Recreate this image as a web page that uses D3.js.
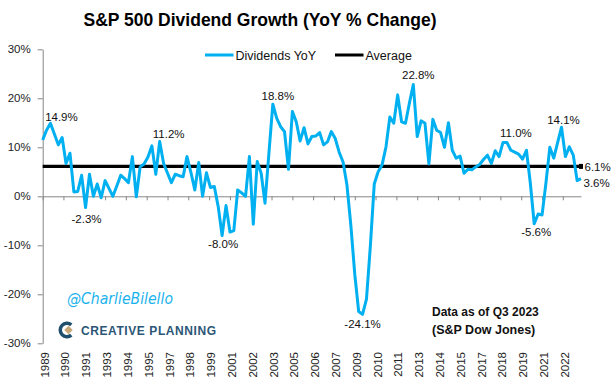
<!DOCTYPE html>
<html>
<head>
<meta charset="utf-8">
<script src="https://cdn.jsdelivr.net/npm/d3@7"></script>
<style>
  body { margin: 0; background: #fff; }
  svg { display: block; font-family: "Liberation Sans", Arial, sans-serif; }
</style>
</head>
<body>
<div id="chart"></div>
<script>
// S&P 500 dividends, YoY % change, quarterly from Q1 1989 to Q3 2023
const startYear = 1989;
const divYoY = [
  11.5, 13.5, 14.9, 12.7, 10.5, 12.0, 6.7, 8.8, 0.9, 1.0, 4.3, -2.3,
  4.5, 0.0, 2.5, -0.3, 3.2, 1.6, 0.0, 2.1, 4.3, 3.6, 2.8, 8.1,
  -0.1, 6.0, 6.6, 8.0, 10.3, 4.5, 11.2, 6.7, 4.7, 2.8, 4.5, 4.2,
  4.0, 8.1, 4.9, 1.3, 6.9, 0.0, 4.8, 1.8, 2.0, -2.1, -8.0, -1.9,
  -7.3, -7.0, 1.3, 0.7, 0.0, 8.1, -5.7, 7.1, 4.7, -1.4, 8.7, 18.8,
  15.9, 14.2, 13.2, 5.5, 17.3, 15.2, 11.3, 14.0, 10.7, 12.2, 12.3, 13.0,
  10.5, 11.1, 13.2, 11.8, 9.0, 7.0, 2.3, -6.0, -16.0, -23.5, -24.1, -21.0,
  -10.0, 2.5, 5.0, 6.4, 10.1, 16.2, 14.9, 20.7, 15.2, 14.9, 19.0, 22.8,
  12.2, 15.4, 14.9, 6.6, 15.7, 13.5, 13.0, 10.0, 15.0, 9.4, 7.8, 8.2,
  4.7, 5.5, 5.4, 6.0, 6.5, 7.5, 8.4, 6.7, 9.3, 8.1, 11.0, 11.0,
  9.4, 9.0, 8.6, 7.6, 9.4, 2.7, -5.6, -3.6, -3.8, 2.7, 10.0, 7.8,
  11.0, 14.1, 8.1, 10.1, 8.4, 3.2, 3.6
];
const average = 6.1;
const yTicks = [-30, -20, -10, 0, 10, 20, 30];
// quarters that carry a value label
const labelIdx = [2, 11, 30, 46, 59, 82, 95, 119, 126, 133];
const legendNames = ["Dividends YoY", "Average"];

const width = 616, height = 385;
const blue = "#00B0F0";

const svg = d3.select("#chart").append("svg")
  .attr("width", width)
  .attr("height", height);

const dates = divYoY.map((v, i) => new Date(startYear, i * 3, 1));
const data = divYoY.map((v, i) => ({ date: dates[i], value: v, i: i }));

const x = d3.scaleTime()
  .domain([dates[0], dates[dates.length - 1]])
  .range([42.7, 581]);

const y = d3.scaleLinear()
  .domain([-30, 30])
  .range([343.3, 49.3]);

// plain hyphen for negatives, like the excel original
const pct = v => d3.format(".1f")(v).replace("\u2212", "-") + "%";

// excel-ish date axis: one tick every 16 months
const tickDates = d3.range(26).map(k => d3.timeMonth.offset(dates[0], 16 * k));

// title
svg.append("text")
  .attr("x", 260).attr("y", 26)
  .attr("text-anchor", "middle")
  .attr("textLength", 353)
  .attr("lengthAdjust", "spacingAndGlyphs")
  .style("font-size", "19px").style("font-weight", "bold")
  .text("S&P 500 Dividend Growth (YoY % Change)");

// y axis
const yAxis = svg.append("g")
  .attr("transform", "translate(" + x.range()[0] + ",0)")
  .call(d3.axisLeft(y).tickValues(yTicks).tickSize(5).tickSizeOuter(0)
    .tickFormat(d => d + "%"));
yAxis.select(".domain").attr("stroke", "#868686");
yAxis.selectAll(".tick line").attr("stroke", "#868686");
yAxis.selectAll(".tick text")
  .attr("x", -12)
  .style("font-size", "11.5px").style("font-family", "Liberation Sans, Arial, sans-serif")
  .attr("fill", "#222");

// x axis along the zero line
const xAxis = svg.append("g")
  .attr("transform", "translate(0," + y(0) + ")")
  .call(d3.axisBottom(x).tickValues(tickDates).tickSize(4).tickSizeOuter(0).tickFormat(""));
xAxis.select(".domain").attr("stroke", "#868686");
xAxis.selectAll(".tick line").attr("stroke", "#868686");

// year labels at the bottom, rotated
svg.append("g").selectAll("text")
  .data(tickDates)
  .enter().append("text")
  .attr("transform", d => "translate(" + (x(d) + 6) + ",352) rotate(-90)")
  .attr("text-anchor", "end")
  .style("font-size", "11.5px")
  .attr("fill", "#222")
  .text(d => d3.timeFormat("%Y")(d));

// average line
svg.append("line")
  .attr("x1", x.range()[0]).attr("x2", x(dates[dates.length - 1]))
  .attr("y1", y(average)).attr("y2", y(average))
  .attr("stroke", "#000").attr("stroke-width", 3.2);
svg.append("rect")
  .attr("x", x(dates[dates.length - 1]) - 2).attr("y", y(average) - 2.5)
  .attr("width", 4).attr("height", 5).attr("fill", "#000");

// dividend line
const line = d3.line()
  .x(d => x(d.date))
  .y(d => y(d.value));

svg.append("path")
  .datum(data)
  .attr("fill", "none")
  .attr("stroke", blue)
  .attr("stroke-width", 3)
  .attr("stroke-linejoin", "round")
  .attr("d", line);

// value labels
const nudge = {
  2: [11, -2], 11: [1, 15.5], 30: [9, -3.5], 46: [1, 12.5], 59: [5, -4],
  82: [0, 13.5], 95: [5, -5.5], 119: [9, -5], 126: [2, 12], 133: [2, -3]
};
svg.append("g").selectAll("text")
  .data(labelIdx.map(i => data[i]))
  .enter().append("text")
  .attr("x", d => x(d.date) + nudge[d.i][0])
  .attr("y", d => y(d.value) + nudge[d.i][1])
  .attr("text-anchor", "middle")
  .style("font-size", "11.5px")
  .attr("fill", "#111")
  .text(d => pct(d.value));

// end labels
const last = data[data.length - 1];
svg.append("text")
  .attr("x", x(last.date) + 3.5).attr("y", y(average) + 4.5)
  .style("font-size", "11.5px").attr("fill", "#111")
  .text(pct(average));
svg.append("text")
  .attr("x", x(last.date) + 2.5).attr("y", y(last.value) + 8)
  .style("font-size", "11.5px").attr("fill", "#111")
  .text(pct(last.value));

// legend
const legend = svg.append("g");
const legendX = [205, 335];
const legendColors = [blue, "#000"];
legendNames.forEach((name, k) => {
  legend.append("line")
    .attr("x1", legendX[k]).attr("x2", legendX[k] + 28.5)
    .attr("y1", 55).attr("y2", 55)
    .attr("stroke", legendColors[k]).attr("stroke-width", 3);
  legend.append("text")
    .attr("x", legendX[k] + 30.5).attr("y", 59.5)
    .style("font-size", "12.5px").attr("fill", "#111")
    .text(name);
});

// watermark
svg.append("text")
  .attr("x", 67).attr("y", 304)
  .attr("textLength", 106)
  .attr("lengthAdjust", "spacingAndGlyphs")
  .style("font-size", "15px").style("font-style", "italic")
  .style("font-family", "'DejaVu Sans', sans-serif")
  .attr("fill", "#1ab3ec")
  .text("@CharlieBilello");

// creative planning logo
const logo = svg.append("g").attr("transform", "translate(67,330)");
logo.append("path")
  .attr("d", d3.arc().innerRadius(5).outerRadius(8.5)
    .startAngle(Math.PI * 0.78).endAngle(Math.PI * 2.22)())
  .attr("fill", "#1f4f6d");
logo.append("rect")
  .attr("x", -3).attr("y", -3).attr("width", 6).attr("height", 6)
  .attr("transform", "translate(1.5,0) rotate(45)")
  .attr("fill", "#c9a878");
svg.append("text")
  .attr("x", 81).attr("y", 334.5)
  .attr("textLength", 135)
  .attr("lengthAdjust", "spacing")
  .style("font-size", "12px").style("font-weight", "bold")
  .attr("fill", "#2c5676")
  .text("CREATIVE PLANNING");

// source note
svg.append("text")
  .attr("x", 432).attr("y", 316)
  .style("font-size", "12px").style("font-weight", "bold")
  .attr("fill", "#111")
  .text("Data as of Q3 2023");
svg.append("text")
  .attr("x", 432).attr("y", 334)
  .style("font-size", "12.5px").style("font-weight", "bold")
  .attr("fill", "#111")
  .text("(S&P Dow Jones)");
</script>
</body>
</html>
